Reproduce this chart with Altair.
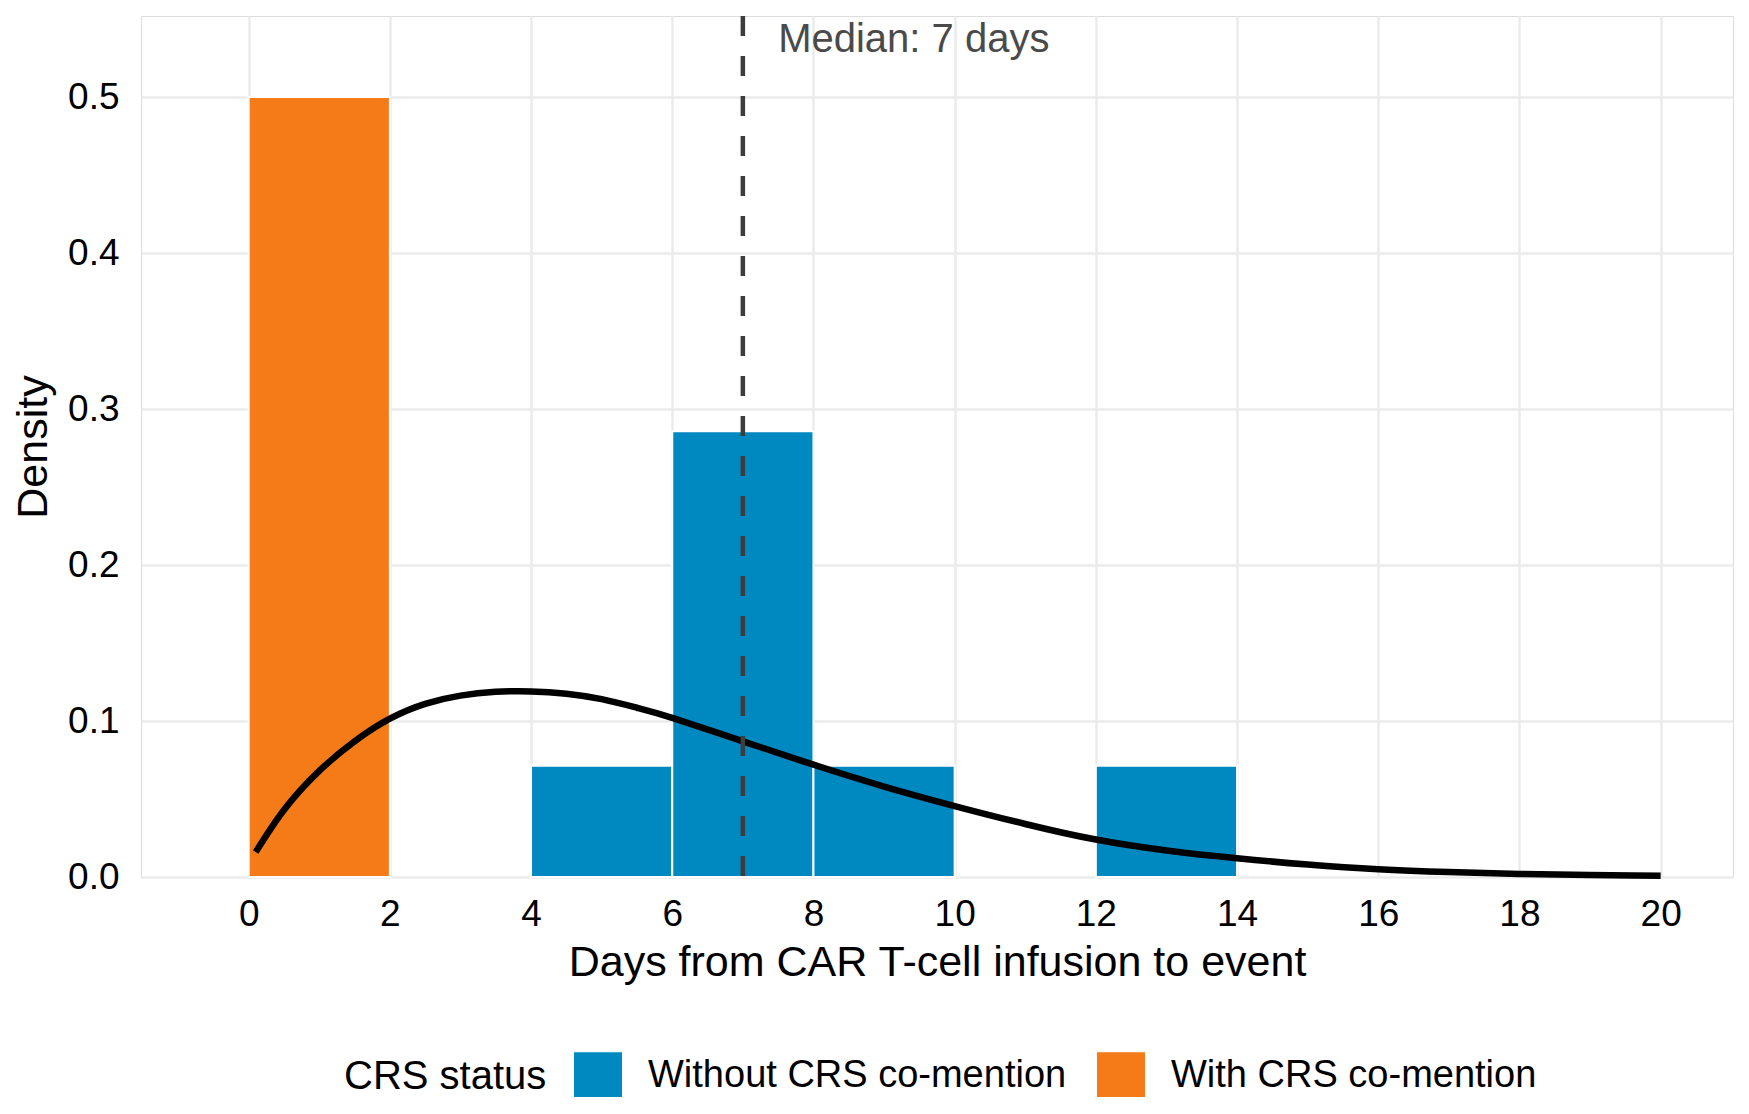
import altair as alt
import pandas as pd

# Histogram bins (density scale)
bin_start = [0, 4, 6, 8, 12]
bin_end = [2, 6, 8, 10, 14]
bin_density = [0.5, 0.0714, 0.2857, 0.0714, 0.0714]
bin_status = ["With CRS co-mention", "Without CRS co-mention", "Without CRS co-mention",
              "Without CRS co-mention", "Without CRS co-mention"]

# Fitted density curve
curve_x = [0.1, 0.5, 1, 1.5, 2, 2.5, 3, 3.5, 4, 4.5, 5, 5.5, 6, 7, 8, 9, 10, 11, 12,
           13, 14, 15, 16, 17, 18, 19, 20]
curve_y = [0.016, 0.043, 0.068, 0.087, 0.1015, 0.111, 0.1163, 0.1187, 0.1190, 0.1175,
           0.1140, 0.1085, 0.102, 0.087, 0.072, 0.058, 0.0455, 0.034, 0.024, 0.017, 0.012,
           0.008, 0.005, 0.0032, 0.002, 0.0013, 0.0008]

median_day = [7]
median_label = ["Median: 7 days"]
label_x = [7.5]
label_y = [0.5365]

status_order = ["Without CRS co-mention", "With CRS co-mention"]
status_colors = ["#0089C0", "#F57A18"]

x_ticks = list(range(0, 21, 2))
y_ticks = [0.0, 0.1, 0.2, 0.3, 0.4, 0.5]
x_domain = [-1.525, 21.025]
y_domain = [0, 0.552]

bars_df = pd.DataFrame({"start": bin_start, "end": bin_end, "density": bin_density,
                        "status": bin_status})
curve_df = pd.DataFrame({"x": curve_x, "y": curve_y})
median_df = pd.DataFrame({"x": median_day})
label_df = pd.DataFrame({"x": label_x, "y": label_y, "text": median_label})

FONT = "Liberation Sans"

xscale = alt.Scale(domain=x_domain, nice=False, zero=False)
yscale = alt.Scale(domain=y_domain, nice=False, zero=False)

bars = alt.Chart(bars_df).mark_bar(stroke="white", strokeWidth=2).encode(
    x=alt.X("start:Q", scale=xscale,
            axis=alt.Axis(title="Days from CAR T-cell infusion to event", values=x_ticks,
                          format="d", labelFontSize=37, titleFontSize=43,
                          labelPadding=19, titlePadding=9, tickSize=0, ticks=False,
                          domain=False, gridColor="#EBEBEB", gridWidth=2.5,
                          labelColor="#000000", titleColor="#000000",
                          titleFontWeight="normal", labelFont=FONT, titleFont=FONT)),
    x2="end:Q",
    y=alt.Y("density:Q", scale=yscale,
            axis=alt.Axis(title="Density", values=y_ticks, format=".1f",
                          labelFontSize=37, titleFontSize=43, labelPadding=22,
                          titlePadding=12, tickSize=0, ticks=False, domain=False,
                          gridColor="#EBEBEB", gridWidth=2.5, labelColor="#000000",
                          titleColor="#000000", titleFontWeight="normal",
                          labelFont=FONT, titleFont=FONT)),
    y2=alt.datum(0),
    color=alt.Color("status:N", scale=alt.Scale(domain=status_order, range=status_colors),
                    legend=alt.Legend(title="CRS status", orient="none", direction="horizontal",
                                      legendX=203, legendY=1035, titleOrient="left",
                                      titleFontSize=40, labelFontSize=38,
                                      titleFontWeight="normal", titleColor="#000000",
                                      labelColor="#000000", titleFont=FONT, labelFont=FONT,
                                      symbolType="square", symbolSize=2401,
                                      symbolStrokeColor="white", symbolStrokeWidth=1,
                                      symbolOpacity=1, labelOffset=25, columnPadding=27,
                                      titlePadding=26, titleBaseline="middle",
                                      titleLimit=500, labelLimit=600)),
)

curve = alt.Chart(curve_df).mark_line(color="black", strokeWidth=6.5,
                                      interpolate="natural").encode(
    x=alt.X("x:Q", scale=xscale),
    y=alt.Y("y:Q", scale=yscale),
)

median_rule = alt.Chart(median_df).mark_rule(color="#3d3d3d", strokeWidth=4.5,
                                             strokeDash=[20, 20]).encode(
    x=alt.X("x:Q", scale=xscale),
)

median_text = alt.Chart(label_df).mark_text(align="left", baseline="middle", fontSize=40,
                                            font=FONT, color="#4a4a4a").encode(
    x=alt.X("x:Q", scale=xscale),
    y=alt.Y("y:Q", scale=yscale),
    text="text:N",
)

chart = alt.layer(bars, curve, median_rule, median_text).properties(
    width=1592, height=861,
    autosize=alt.AutoSizeParams(type="none"),
    padding={"left": 133, "top": 8, "right": 8, "bottom": 220},
).configure_view(stroke="#A0A0A0", strokeWidth=2).configure(background="white")

chart.save("out.html", embed_options={"renderer": "svg", "actions": False})
